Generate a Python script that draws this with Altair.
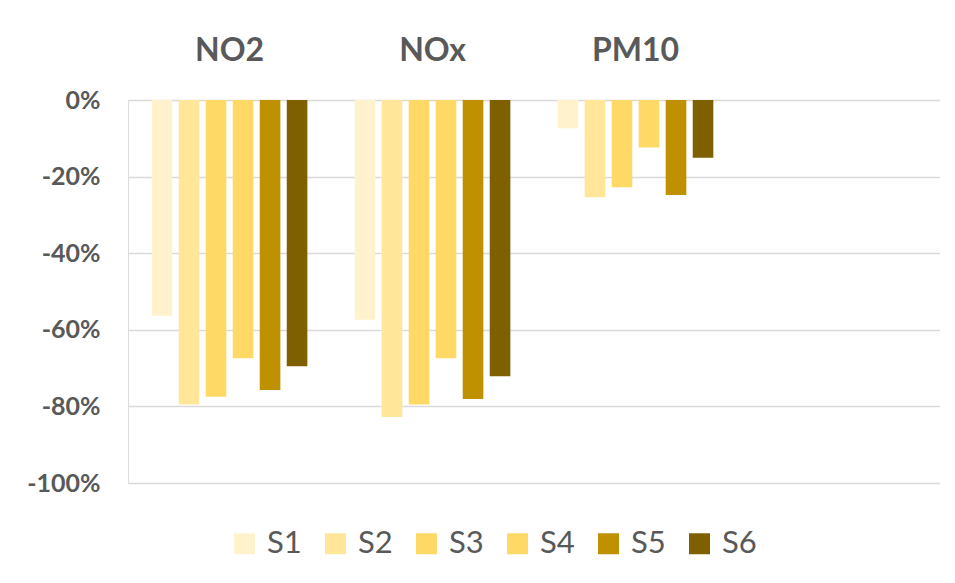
import altair as alt
import pandas as pd

categories = ["NO2", "NOx", "PM10"]
series = ["S1", "S2", "S3", "S4", "S5", "S6"]
colors = ["#FFF2CC", "#FFE699", "#FFD966", "#FFD966", "#BF9000", "#7F6000"]
values = {
    "NO2": [-0.563, -0.795, -0.775, -0.674, -0.757, -0.695],
    "NOx": [-0.574, -0.828, -0.795, -0.674, -0.781, -0.721],
    "PM10": [-0.074, -0.254, -0.228, -0.124, -0.248, -0.151],
}
y_ticks = [0, -0.2, -0.4, -0.6, -0.8, -1.0]

rows = []
for c in categories:
    for s, v in zip(series, values[c]):
        rows.append({"cat": c, "series": s, "value": v})
df = pd.DataFrame(rows)

FONT = "Lato"
TXT = "#595959"

chart = alt.Chart(df).mark_bar().encode(
    x=alt.X("cat:N",
            scale=alt.Scale(domain=categories + [" "], paddingInner=0.233, paddingOuter=0.1167),
            axis=alt.Axis(orient="top", title=None, domain=False, ticks=False,
                          labelAngle=0, labelFontSize=32, labelFontWeight="bold",
                          labelColor=TXT, labelPadding=33, labelFont=FONT)),
    xOffset=alt.XOffset("series:N", scale=alt.Scale(domain=series, paddingInner=0.237, paddingOuter=0)),
    y=alt.Y("value:Q",
            scale=alt.Scale(domain=[-1, 0], nice=False),
            axis=alt.Axis(values=y_ticks, title=None, domain=False, ticks=False,
                          labelExpr="(datum.value < 0 ? '-' : '') + format(abs(datum.value) * 100, '.0f') + '%'",
                          labelFontSize=25, labelFontWeight="bold", labelColor=TXT,
                          labelPadding=28, labelFont=FONT, gridColor="#D9D9D9", gridWidth=1.5)),
    color=alt.Color("series:N",
                    scale=alt.Scale(domain=series, range=colors),
                    legend=alt.Legend(title=None, orient="none", direction="horizontal",
                                      legendX=101, legendY=428, symbolType="square",
                                      symbolSize=441, symbolStrokeWidth=0,
                                      labelFontSize=31, labelColor=TXT, labelFont=FONT,
                                      columnPadding=18, labelOffset=7)),
).properties(
    width=812, height=383,
    autosize=alt.AutoSizeParams(type="none"),
    padding={"left": 120, "top": 92, "right": 0, "bottom": 80},
).configure_view(stroke=None).configure(background="white")

chart.save("out.html", embed_options={"renderer": "svg", "actions": False})
